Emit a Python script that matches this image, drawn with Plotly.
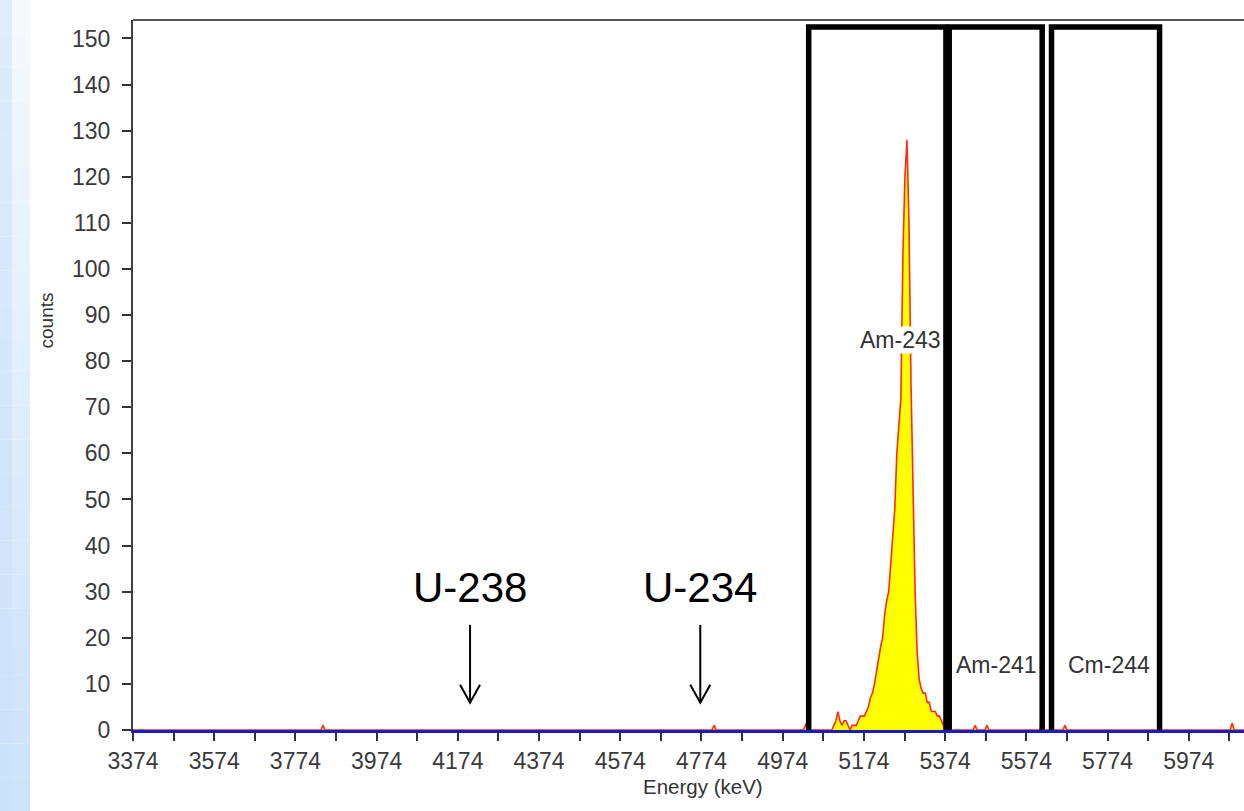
import plotly.graph_objects as go

# ---------------- data ----------------
# alpha spectrum (energy keV, counts)
spec_energy = [3374, 3837, 3842, 3847,
               4800, 4805, 4810,
               5025, 5030, 5035, 5040,
               5095, 5100, 5105, 5110, 5115, 5120, 5125, 5130, 5135, 5140, 5145, 5150, 5155,
               5160, 5165, 5170, 5175, 5180, 5185, 5190, 5195, 5200, 5205, 5210, 5215, 5220,
               5225, 5230, 5235, 5240, 5245, 5250, 5255, 5260, 5265, 5270, 5275, 5280, 5285,
               5290, 5295, 5300, 5305, 5310, 5315, 5320, 5325, 5330, 5335, 5340, 5345, 5350,
               5355, 5360, 5365, 5370, 5375,
               5443, 5448, 5453, 5472, 5477, 5482,
               5607, 5612, 5617, 5664, 5669, 5674,
               6076, 6081, 6086, 6110]
spec_counts = [0, 0, 1, 0,
               0, 1, 0,
               0, 1, 2, 0,
               0, 1, 2, 4, 2, 1, 2, 2, 1, 0, 1, 1, 1,
               2, 3, 3, 3, 4, 5, 7, 8, 10, 13, 15, 18, 20,
               25, 28, 30, 36, 42, 48, 60, 66, 72, 103, 120, 128, 110,
               75, 52, 30, 17, 11, 9, 8, 8, 6, 6, 4, 4, 4,
               3, 3, 2, 1, 0,
               0, 1, 0, 0, 1, 0,
               0, 1.5, 0, 0, 1, 0,
               0, 1.5, 0, 0]

# regions of interest
roi_names = ["Am-243", "Am-241", "Cm-244"]
roi_start = [5038, 5384, 5636]
roi_end = [5376, 5613, 5902]
roi_top = 152.5
roi_label_x = [5263, 5500, 5778]
roi_label_y = [84.6, 14, 14]

# uranium markers
u_names = ["U-238", "U-234"]
u_energy = [4204, 4771]

# axes
x_range = [3374, 6110]
x_ticks = [3374, 3574, 3774, 3974, 4174, 4374, 4574, 4774, 4974, 5174, 5374, 5574, 5774, 5974]
y_ticks = [0, 10, 20, 30, 40, 50, 60, 70, 80, 90, 100, 110, 120, 130, 140, 150]
y_range = [0, 154]

FONT = "Arial, 'Liberation Sans', sans-serif"
TICKC = "#3a3a3a"

fig = go.Figure()
fig.add_trace(go.Scatter(
    x=spec_energy, y=spec_counts, mode="lines",
    line=dict(color="#ff2a1a", width=1.6),
    fill="tozeroy", fillcolor="#ffff00",
    hoverinfo="skip", showlegend=False))

shapes = []
W, H = 1244, 811
L, T, B = 133, 20, 81
pw, ph = W - L, H - T - B
def px2paper_x(px):
    return (px - L) / pw
def px2paper_y(py):
    return (H - B - py) / ph

# left blue gradient strip of the slide
nb = 24
for i in range(nb):
    y0 = H * i / nb
    y1 = H * (i + 1) / nb
    f = i / (nb - 1)
    r = int(222 - 20 * f); g = int(236 - 10 * f); b = int(252 - 2 * f)
    shapes.append(dict(type="rect", xref="paper", yref="paper",
                       x0=px2paper_x(0), x1=px2paper_x(12),
                       y0=px2paper_y(y1), y1=px2paper_y(y0),
                       fillcolor=f"rgb({r},{g},{b})", line=dict(width=0), layer="below"))
    r2 = int(244 - 40 * f); g2 = int(249 - 22 * f); b2 = int(254 - 4 * f)
    shapes.append(dict(type="rect", xref="paper", yref="paper",
                       x0=px2paper_x(12), x1=px2paper_x(30),
                       y0=px2paper_y(y1), y1=px2paper_y(y0),
                       fillcolor=f"rgb({r2},{g2},{b2})", line=dict(width=0), layer="below"))

# top frame line
shapes.append(dict(type="line", xref="paper", yref="paper", x0=0, x1=1, y0=1, y1=1,
                   line=dict(color="#555555", width=2)))

# ROI boxes (three-sided)
for x0, x1 in zip(roi_start, roi_end):
    shapes.append(dict(type="path", xref="x", yref="y",
                       path=f"M {x0},0 L {x0},{roi_top} L {x1},{roi_top} L {x1},0",
                       line=dict(color="black", width=5.5), layer="above"))

# arrows for uranium markers (thin line + open V head)
head_dx = 24.6   # keV half-width of head
tip_y, head_y, tail_y = 5.9, 9.8, 22.8
for ux in u_energy:
    shapes.append(dict(type="line", xref="x", yref="y", x0=ux, x1=ux, y0=tip_y, y1=tail_y,
                       line=dict(color="black", width=2), layer="above"))
    shapes.append(dict(type="path", xref="x", yref="y",
                       path=f"M {ux - head_dx},{head_y} L {ux},{tip_y} L {ux + head_dx},{head_y}",
                       line=dict(color="black", width=2), layer="above"))

annotations = []
for name, lx, ly in zip(roi_names, roi_label_x, roi_label_y):
    annotations.append(dict(x=lx, y=ly, xref="x", yref="y", text=name, showarrow=False,
                            font=dict(family=FONT, size=23, color="#333333"),
                            bgcolor="white", borderpad=0))

for name, ux in zip(u_names, u_energy):
    annotations.append(dict(x=ux, y=31, xref="x", yref="y", text=name, showarrow=False,
                            font=dict(family=FONT, size=42, color="black")))

# axis titles
annotations.append(dict(x=px2paper_x(703), y=px2paper_y(800), xref="paper", yref="paper",
                        text="Energy (keV)", showarrow=False,
                        font=dict(family=FONT, size=20.5, color="#333333")))
annotations.append(dict(x=px2paper_x(33), y=px2paper_y(321), xref="paper", yref="paper",
                        text="counts", showarrow=False, textangle=-90,
                        font=dict(family=FONT, size=19, color="#333333")))

fig.update_layout(
    width=W, height=H,
    margin=dict(l=L, r=0, t=T, b=B, pad=0),
    paper_bgcolor="white", plot_bgcolor="white",
    shapes=shapes, annotations=annotations,
    xaxis=dict(range=x_range, tickmode="array", tickvals=x_ticks,
               ticktext=[str(v) for v in x_ticks],
               showgrid=False, zeroline=False, showline=True,
               linecolor="#1c1cb8", linewidth=3,
               ticks="outside", ticklen=8, tickwidth=2, tickcolor="#333333",
               minor=dict(tick0=3374, dtick=100, ticks="outside", ticklen=8,
                          tickwidth=2, tickcolor="#333333", showgrid=False),
               tickfont=dict(family=FONT, size=23, color=TICKC)),
    yaxis=dict(range=y_range, tickmode="array", tickvals=y_ticks,
               showgrid=False, zeroline=False, showline=True,
               linecolor="#404040", linewidth=2,
               ticks="outside", ticklen=9, tickwidth=2, tickcolor="#333333",
               ticklabelstandoff=7,
               tickfont=dict(family=FONT, size=23, color=TICKC)),
)

fig.write_html("out.html", config={"displayModeBar": False},
               post_script="document.body.style.margin='0px';")
